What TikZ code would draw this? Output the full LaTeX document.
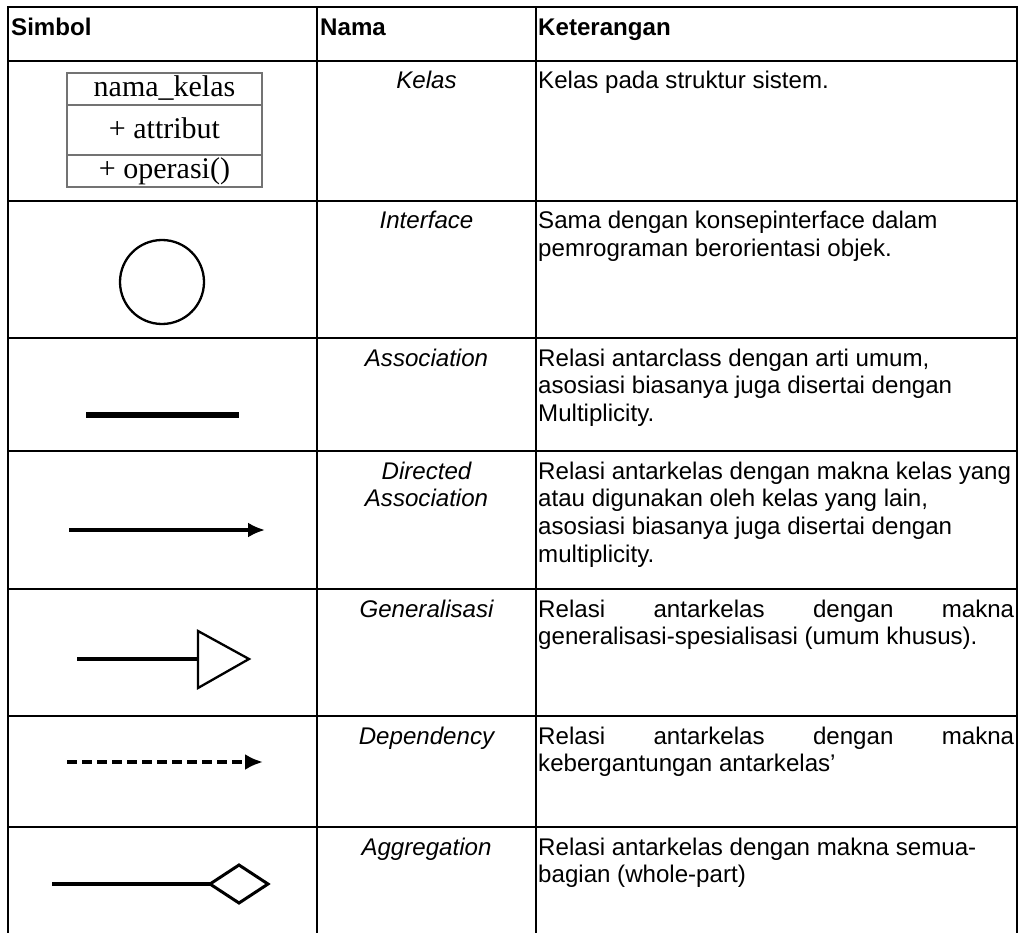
\documentclass[tikz,border=0pt]{standalone}
\usepackage{fontspec}
\setmainfont{Liberation Sans}
\newfontfamily\serifcls{Liberation Serif}
\usetikzlibrary{arrows.meta}
\newcommand\cellfont{\fontsize{24.1}{27.7}\selectfont}
\newcommand\clsfont{\serifcls\fontsize{30}{32}\selectfont}
\begin{document}
\begin{tikzpicture}[x=1pt,y=-1pt,
  tbl/.style={line width=2.6pt,line cap=rect},
  head/.style={anchor=base west,inner sep=0pt,font=\cellfont\bfseries},
  desc/.style={anchor=base west,inner sep=0pt,font=\cellfont},
  nama/.style={anchor=base,inner sep=0pt,font=\cellfont\itshape},
  clsline/.style={line width=1.1pt,draw=black!55},
  clstext/.style={anchor=base,inner sep=0pt,font=\clsfont},
  sym/.style={line width=3.3pt},
]
\useasboundingbox (0,0) rectangle (1019,933);
% table grid
\draw[tbl] (8,7) -- (1017,7);
\foreach \yy in {61,201,338,451,589,716,827}{\draw[tbl] (8,\yy) -- (1017,\yy);}
\foreach \xx in {8,317,536,1017}{\draw[tbl] (\xx,7) -- (\xx,933);}
% header
\node[head] (hSimbol) at (11,36) {Simbol};
\node[head] (hNama) at (320,36) {Nama};
\node[head] (hKet) at (538,36) {Keterangan};
% names
\node[nama] (nKelas) at (426.5,89) {Kelas};
\node[nama] (nInterface) at (426.5,229) {Interface};
\node[nama] (nAssoc) at (426.5,366) {Association};
\node[nama] (nDirected) at (426.5,479) {\parbox[t]{200pt}{\centering Directed\\Association}};
\node[nama] (nGen) at (426.5,617) {Generalisasi};
\node[nama] (nDep) at (426.5,744) {Dependency};
\node[nama] (nAgg) at (426.5,855) {Aggregation};
% descriptions
\node[desc] (dKelas) at (538,89) {Kelas pada struktur sistem.};
\node[desc] (dInterface) at (538,229) {\parbox[t]{478pt}{Sama dengan konsepinterface dalam\\pemrograman berorientasi objek.}};
\node[desc] (dAssoc) at (538,366) {\parbox[t]{478pt}{Relasi antarclass dengan arti umum,\\asosiasi biasanya juga disertai dengan\\Multiplicity.}};
\node[desc] (dDirected) at (538,479) {\parbox[t]{478pt}{Relasi antarkelas dengan makna kelas yang\\atau digunakan oleh kelas yang lain,\\asosiasi biasanya juga disertai dengan\\multiplicity.}};
\node[desc] (dGen) at (538,617) {\parbox[t]{478pt}{\makebox[476pt][s]{Relasi antarkelas dengan makna}\\generalisasi-spesialisasi (umum khusus).}};
\node[desc] (dDep) at (538,744) {\parbox[t]{478pt}{\makebox[476pt][s]{Relasi antarkelas dengan makna}\\kebergantungan antarkelas’}};
\node[desc] (dAgg) at (538,855) {\parbox[t]{478pt}{Relasi antarkelas dengan makna semua-\\bagian (whole-part)}};
% class symbol
\draw[clsline] (67,73) rectangle (262,187);
\draw[clsline] (67,105) -- (262,105);
\draw[clsline] (67,155) -- (262,155);
\node[clstext] (cName) at (164.5,97) {nama\_kelas};
\node[clstext] (cAttr) at (164.5,139) {+ attribut};
\node[clstext] (cOp) at (164.5,179) {+ operasi()};
% interface
\node[draw,circle,line width=2.3pt,minimum size=84pt,inner sep=0pt] (iface) at (162,282) {};
% association
\coordinate (aA) at (86,415);
\coordinate (aB) at (239,415);
\draw[line width=6pt] (aA) -- (aB);
% directed association
\coordinate (dA) at (69,530);
\coordinate (dB) at (265,530);
\draw[sym,-{Latex[length=17pt,width=15pt]}] (dA) -- (dB);
% generalisation
\coordinate (gA) at (77,659);
\coordinate (gB) at (198,659);
\coordinate (gT) at (198,631);
\coordinate (gBt) at (198,688);
\coordinate (gTip) at (249,659);
\draw[sym] (gA) -- (gB);
\draw[line width=2.3pt,line join=miter] (gT) -- (gTip) -- (gBt) -- cycle;
% dependency
\coordinate (pA) at (67,762);
\coordinate (pB) at (263,762);
\draw[line width=4pt,dash pattern=on 10pt off 5pt,-{Latex[length=18pt,width=16pt]}] (pA) -- (pB);
% aggregation
\coordinate (ggA) at (52,884);
\coordinate (ggL) at (210,884);
\coordinate (ggT) at (239,865);
\coordinate (ggR) at (268,884);
\coordinate (ggB) at (239,903);
\draw[line width=4pt] (ggA) -- (ggL);
\draw[line width=3pt,line join=miter] (ggL) -- (ggT) -- (ggR) -- (ggB) -- cycle;
\end{tikzpicture}
\end{document}
